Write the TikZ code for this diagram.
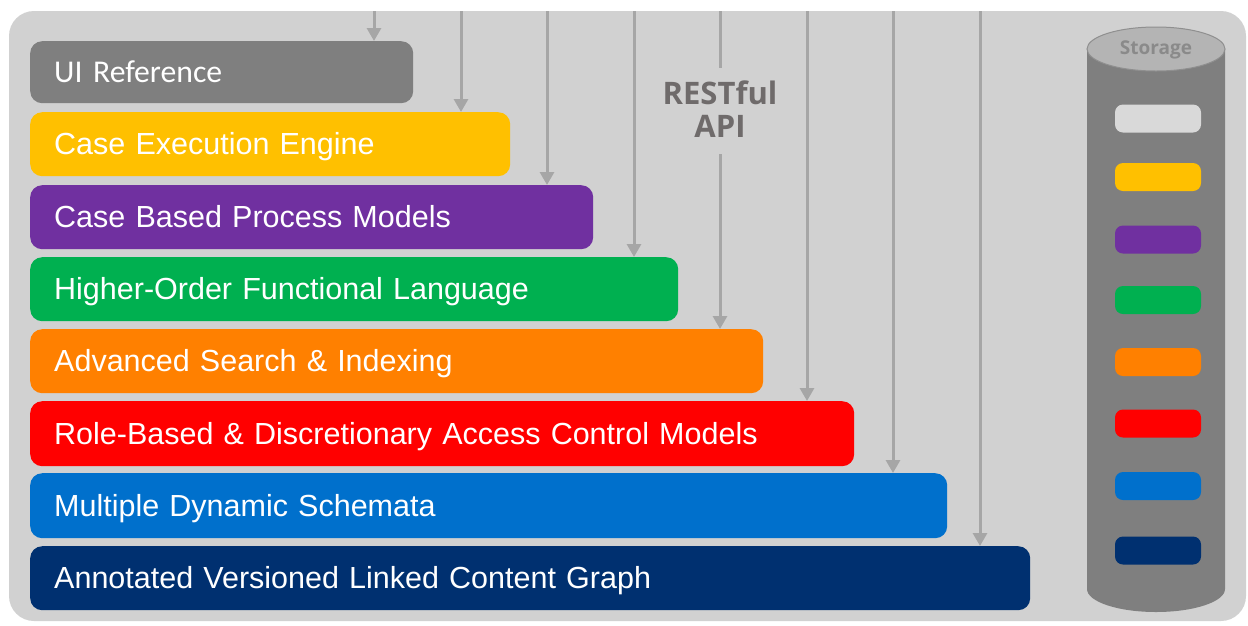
\documentclass[tikz,border=0pt]{standalone}
\usepackage{fontspec}
\setmainfont{Liberation Sans}
\newfontfamily\calib{Carlito}
\newfontfamily\opensb{Open Sans}
\usetikzlibrary{arrows.meta}
\definecolor{bggray}{HTML}{D1D1D1}
\definecolor{arrgray}{HTML}{A6A6A6}
\definecolor{cgray}{HTML}{7F7F7F}
\definecolor{cyellow}{HTML}{FFC000}
\definecolor{cpurple}{HTML}{7030A0}
\definecolor{cgreen}{HTML}{00B050}
\definecolor{corange}{HTML}{FF8000}
\definecolor{cred}{HTML}{FF0000}
\definecolor{cblue}{HTML}{0070CC}
\definecolor{cnavy}{HTML}{003070}
\definecolor{cwhite}{HTML}{D9D9D9}
\definecolor{apitext}{HTML}{6F6B6B}
\definecolor{cyltop}{HTML}{B4B4B4}
\definecolor{cylline}{HTML}{8F8F8F}
\definecolor{stortext}{HTML}{8A8A8A}
\tikzset{
  layer/.style={draw=none, fill=#1, rounded corners=12pt, anchor=north west,
    text=white, align=left, inner xsep=24pt, inner ysep=0pt,
    text height=21pt, text depth=0pt,
    font=\fontsize{30.5}{32}\selectfont},
  chip/.style={fill=#1, rounded corners=8pt, minimum width=86pt, minimum height=28pt, inner sep=0pt},
  arr/.style={draw=arrgray, line width=3pt, -{Triangle[length=13pt,width=14pt]}},
  plain/.style={draw=arrgray, line width=3pt}
}
\begin{document}
\begin{tikzpicture}[x=1pt,y=-1pt]
\useasboundingbox (0,0) rectangle (1248,625);
\fill[white] (0,0) rectangle (1248,625);
\fill[bggray, rounded corners=25pt] (9,11) rectangle (1246,621);

% layers
\node[layer=cgray, text width=335pt, minimum height=62pt, font=\calib\fontsize{31.7}{33}\selectfont] (b1) at (30,41) {UI Reference};
\node[layer=cyellow, text width=432pt, minimum height=64pt] (b2) at (30,112) {Case Execution Engine};
\node[layer=cpurple, text width=515pt, minimum height=64pt] (b3) at (30,185) {Case Based Process Models};
\node[layer=cgreen, text width=600pt, minimum height=64pt] (b4) at (30,257) {Higher-Order Functional Language};
\node[layer=corange, text width=685pt, minimum height=64pt] (b5) at (30,329) {Advanced Search \& Indexing};
\node[layer=cred, text width=776pt, minimum height=65pt] (b6) at (30,401) {Role-Based \& Discretionary Access Control Models};
\node[layer=cblue, text width=869pt, minimum height=65pt] (b7) at (30,473) {Multiple Dynamic Schemata};
\node[layer=cnavy, text width=952pt, minimum height=64pt] (b8) at (30,546) {Annotated Versioned Linked Content Graph};

% arrows
\coordinate (t1) at (374,11);
\coordinate (t2) at (461,11);
\coordinate (t3) at (547,11);
\coordinate (t4) at (634,11);
\coordinate (t5) at (720,11);
\coordinate (t6) at (807,11);
\coordinate (t7) at (893,11);
\coordinate (t8) at (980,11);
\node[text=apitext, align=center, font=\opensb\bfseries\fontsize{31}{33}\selectfont, inner sep=0pt, minimum height=86pt] (api) at (720,111) {\raisebox{4pt}{RESTful}\\\raisebox{4pt}{API}};
\draw[arr] (t1) -- (t1 |- b1.north);
\draw[arr] (t2) -- (t2 |- b2.north);
\draw[arr] (t3) -- (t3 |- b3.north);
\draw[arr] (t4) -- (t4 |- b4.north);
\draw[plain] (t5) -- (api.north);
\draw[arr] (api.south) -- (api.south |- b5.north);
\draw[arr] (t6) -- (t6 |- b6.north);
\draw[arr] (t7) -- (t7 |- b7.north);
\draw[arr] (t8) -- (t8 |- b8.north);

% storage cylinder
\fill[cgray] (1087,49) -- (1087,589) arc[start angle=180, end angle=360, x radius=69pt, y radius=23pt] -- (1225,49) -- cycle;
\filldraw[fill=cyltop, draw=cylline, line width=1pt] (1156,49) ellipse[x radius=69pt, y radius=22pt];
\node[text=stortext, font=\opensb\bfseries\fontsize{19}{20}\selectfont, inner sep=0pt] (stor) at (1156,50) {Storage};
\node[chip=cwhite] (s1) at (1158,118.5) {};
\node[chip=cyellow] (s2) at (1158,177) {};
\node[chip=cpurple] (s3) at (1158,239.5) {};
\node[chip=cgreen] (s4) at (1158,300) {};
\node[chip=corange] (s5) at (1158,362) {};
\node[chip=cred] (s6) at (1158,423.5) {};
\node[chip=cblue] (s7) at (1158,486) {};
\node[chip=cnavy] (s8) at (1158,550.5) {};
\end{tikzpicture}
\end{document}
